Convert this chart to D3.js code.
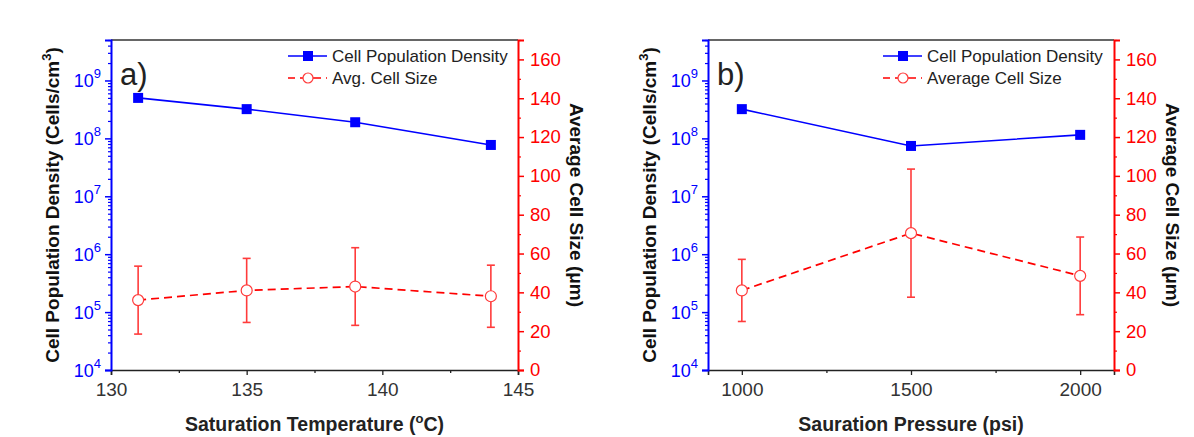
<!DOCTYPE html>
<html><head><meta charset="utf-8">
<script src="https://cdn.jsdelivr.net/npm/d3@7"></script>
<style>
body{margin:0;background:#fff;}
svg text{font-family:"Liberation Sans",Arial,sans-serif;}
</style></head>
<body><svg id="c" width="1194" height="437"></svg>
<script>
// ---- data ----
const tempX = [131, 135, 139, 144];
const tempDensity = [5.0e8, 3.2e8, 1.9e8, 7.7e7];
const tempSize = [36, 41, 43, 38];
const tempSizeErr = [17.5, 16.5, 20, 16];
const pressX = [1000, 1500, 2000];
const pressDensity = [3.2e8, 7.4e7, 1.15e8];
const pressSize = [41, 70.5, 48.5];
const pressSizeErr = [16, 33, 20];
const tempTicks = [130, 135, 140, 145];
const pressTicks = [1000, 1500, 2000];
const sizeTicks = [0, 20, 40, 60, 80, 100, 120, 140, 160];
const densityExps = [4, 5, 6, 7, 8, 9];
const legendA = ["Cell Population Density", "Avg. Cell Size"];
const legendB = ["Cell Population Density", "Average Cell Size"];

const svg = d3.select("#c");
const BLUE = "#0000ff", RED = "#ff0000", REDL = "#ff3b3b";

function panel(o) {
  const g = svg.append("g");
  const x = d3.scaleLinear().domain(o.xDomain).range([o.left, o.right]);
  const yL = d3.scaleLog().domain([1e4, 5e9]).range([o.bottom, o.top]);
  const yR = d3.scaleLinear().domain([0, 170]).range([o.bottom, o.top]);

  // frame top
  g.append("line").attr("x1", o.left).attr("x2", o.right).attr("y1", o.top).attr("y2", o.top)
    .attr("stroke", "#333").attr("stroke-width", 1.6);

  // bottom axis
  const xa = g.append("g").attr("transform", `translate(0,${o.bottom})`)
    .call(d3.axisBottom(x).tickValues(o.xTicks).tickSize(5).tickFormat(d3.format("d")));
  xa.select(".domain").attr("stroke", "#222").attr("stroke-width", 1.6);
  xa.selectAll(".tick line").attr("stroke", "#222").attr("stroke-width", 1.3);
  xa.selectAll(".tick text").attr("fill", "#333").attr("font-size", 19).attr("dy", "0.95em")
    .attr("font-family", "Liberation Sans, Arial, sans-serif");
  const xmin = g.append("g").attr("transform", `translate(0,${o.bottom})`)
    .call(d3.axisBottom(x).tickValues(o.xMinor).tickSize(3).tickFormat(""));
  xmin.select(".domain").remove();
  xmin.selectAll(".tick line").attr("stroke", "#222").attr("stroke-width", 1.3);

  // left log axis
  const la = g.append("g").attr("transform", `translate(${o.left},0)`)
    .call(d3.axisLeft(yL).tickValues(densityExps.map(e => Math.pow(10, e))).tickSize(6).tickFormat(""));
  la.select(".domain").attr("stroke", BLUE).attr("stroke-width", 2);
  la.selectAll(".tick line").attr("stroke", BLUE).attr("stroke-width", 1.5);
  const minorL = [];
  densityExps.forEach(e => { for (let k = 2; k <= 9; k++) { const v = k * Math.pow(10, e); if (v <= 5e9) minorL.push(v); } });
  const lm = g.append("g").attr("transform", `translate(${o.left},0)`)
    .call(d3.axisLeft(yL).tickValues(minorL).tickSize(3).tickFormat(""));
  lm.select(".domain").remove();
  lm.selectAll(".tick line").attr("stroke", BLUE).attr("stroke-width", 1.2);
  densityExps.forEach(e => {
    const t = g.append("text").attr("x", o.left - 10).attr("y", yL(Math.pow(10, e)) + 7)
      .attr("text-anchor", "end").attr("fill", BLUE).attr("font-size", 18);
    t.append("tspan").text("10");
    t.append("tspan").attr("dy", -9).attr("font-size", 13).text(e);
  });

  // right linear axis
  const ra = g.append("g").attr("transform", `translate(${o.right},0)`)
    .call(d3.axisRight(yR).tickValues(sizeTicks).tickSize(6).tickFormat(d3.format("d")));
  ra.select(".domain").attr("stroke", RED).attr("stroke-width", 2);
  ra.selectAll(".tick line").attr("stroke", RED).attr("stroke-width", 1.5);
  ra.selectAll(".tick text").attr("fill", RED).attr("font-size", 18.5).attr("x", 12)
    .attr("font-family", "Liberation Sans, Arial, sans-serif");
  const rm = g.append("g").attr("transform", `translate(${o.right},0)`)
    .call(d3.axisRight(yR).tickValues(sizeTicks.map(v => v + 10)).tickSize(3).tickFormat(""));
  rm.select(".domain").remove();
  rm.selectAll(".tick line").attr("stroke", RED).attr("stroke-width", 1.2);

  // titles
  const xt = g.append("text").attr("x", (o.left + o.right) / 2).attr("y", 431)
    .attr("text-anchor", "middle").attr("font-weight", "bold").attr("font-size", 19.5).attr("fill", "#222");
  o.xTitle(xt);
  const lt = g.append("text").attr("transform", `translate(${o.left - 52},${(o.top + o.bottom) / 2}) rotate(-90)`)
    .attr("text-anchor", "middle").attr("font-weight", "bold").attr("font-size", 19).attr("fill", "#111");
  lt.append("tspan").text("Cell Population Density (Cells/cm");
  lt.append("tspan").attr("dy", -8).attr("font-size", 13).text("3");
  lt.append("tspan").attr("dy", 8).text(")");
  g.append("text").attr("transform", `translate(${o.right + 52},${(o.top + o.bottom) / 2}) rotate(90)`)
    .attr("text-anchor", "middle").attr("font-weight", "bold").attr("font-size", 19).attr("fill", "#111")
    .text("Average Cell Size (\u03bcm)");

  // panel letter
  g.append("text").attr("x", o.left + 9).attr("y", 85).attr("font-size", 31).attr("fill", "#222").text(o.letter);

  // density series
  const lineD = d3.line().x((d, i) => x(o.xs[i])).y(d => yL(d));
  g.append("path").datum(o.dens).attr("d", lineD).attr("fill", "none").attr("stroke", BLUE).attr("stroke-width", 1.6);
  g.selectAll(".sq").data(o.dens).join("rect").attr("x", (d, i) => x(o.xs[i]) - 5).attr("y", d => yL(d) - 5)
    .attr("width", 10).attr("height", 10).attr("fill", BLUE);

  // size series
  const lineS = d3.line().x((d, i) => x(o.xs[i])).y(d => yR(d));
  g.append("path").datum(o.size).attr("d", lineS).attr("fill", "none").attr("stroke", RED)
    .attr("stroke-width", 1.7).attr("stroke-dasharray", "8,5");
  o.size.forEach((v, i) => {
    const cx = x(o.xs[i]), lo = yR(v - o.err[i]), hi = yR(v + o.err[i]);
    g.append("line").attr("x1", cx).attr("x2", cx).attr("y1", lo).attr("y2", hi).attr("stroke", REDL).attr("stroke-width", 1.6);
    [lo, hi].forEach(yy => g.append("line").attr("x1", cx - 4).attr("x2", cx + 4).attr("y1", yy).attr("y2", yy)
      .attr("stroke", REDL).attr("stroke-width", 1.6));
  });
  g.selectAll(".ci").data(o.size).join("circle").attr("cx", (d, i) => x(o.xs[i])).attr("cy", d => yR(d))
    .attr("r", 5.5).attr("fill", "#fff").attr("stroke", REDL).attr("stroke-width", 1.2);

  // legend
  const lx = o.legX, ly1 = 56, ly2 = 78;
  g.append("line").attr("x1", lx).attr("x2", lx + 39).attr("y1", ly1).attr("y2", ly1).attr("stroke", BLUE).attr("stroke-width", 1.6);
  g.append("rect").attr("x", lx + 15).attr("y", ly1 - 5).attr("width", 10).attr("height", 10).attr("fill", BLUE);
  g.append("line").attr("x1", lx).attr("x2", lx + 39).attr("y1", ly2).attr("y2", ly2).attr("stroke", RED)
    .attr("stroke-width", 1.5).attr("stroke-dasharray", "8,5").attr("stroke-dashoffset", 1);
  g.append("circle").attr("cx", lx + 20).attr("cy", ly2).attr("r", 5).attr("fill", "#fff").attr("stroke", REDL).attr("stroke-width", 1.2);
  g.append("text").attr("x", lx + 44).attr("y", ly1 + 6).attr("font-size", 17).attr("fill", "#222").text(o.leg[0]);
  g.append("text").attr("x", lx + 44).attr("y", ly2 + 6).attr("font-size", 17).attr("fill", "#222").text(o.leg[1]);
}

panel({
  left: 111, right: 518, top: 40, bottom: 370, xDomain: [130, 145], xTicks: tempTicks,
  xMinor: [132.5, 137.5, 142.5], xs: tempX, dens: tempDensity, size: tempSize, err: tempSizeErr,
  letter: "a)", legX: 288, leg: legendA,
  xTitle: t => {
    t.append("tspan").text("Saturation Temperature (");
    t.append("tspan").attr("dy", -8).attr("font-size", 13).text("o");
    t.append("tspan").attr("dy", 8).text("C)");
  }
});
panel({
  left: 708, right: 1114, top: 40, bottom: 370, xDomain: [900, 2100], xTicks: pressTicks,
  xMinor: [1250, 1750], xs: pressX, dens: pressDensity, size: pressSize, err: pressSizeErr,
  letter: "b)", legX: 883, leg: legendB,
  xTitle: t => { t.text("Sauration Pressure (psi)"); }
});
</script></body></html>
